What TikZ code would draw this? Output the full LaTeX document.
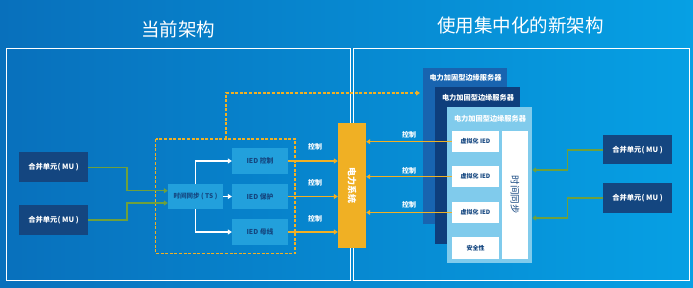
\documentclass[tikz,border=0pt]{standalone}
\usepackage{fontspec}
\setmainfont{Noto Sans CJK SC}
\usetikzlibrary{arrows.meta,positioning}
\definecolor{bgL}{RGB}{8,112,188}
\definecolor{bgR}{RGB}{6,160,228}
\definecolor{navy}{RGB}{20,70,128}
\definecolor{iedfill}{RGB}{34,160,220}
\definecolor{orng}{RGB}{240,176,36}
\definecolor{grn}{RGB}{110,160,60}
\definecolor{srvA}{RGB}{24,100,176}
\definecolor{srvB}{RGB}{14,62,124}
\definecolor{srvC}{RGB}{128,203,236}
\begin{document}
\begin{tikzpicture}[x=1pt,y=-1pt,
  box/.style={draw=none,inner sep=0pt,align=center},
  mubox/.style={box,fill=navy,text=white,font=\bfseries\fontsize{7.3}{8}\selectfont,minimum width=69pt,minimum height=30pt},
  iedbox/.style={box,fill=iedfill,text=navy,font=\bfseries\fontsize{6.8}{8}\selectfont,minimum width=56pt,minimum height=25.5pt},
  wbox/.style={box,fill=white,text=navy,font=\bfseries\fontsize{6}{7}\selectfont,minimum width=47pt,minimum height=21.5pt},
  srv/.style={box,minimum width=85pt,minimum height=156pt},
  srvlab/.style={text=white,font=\bfseries\fontsize{7.2}{8}\selectfont,inner sep=0pt},
  ctl/.style={text=white,font=\bfseries\fontsize{7}{8}\selectfont,inner sep=0pt},
  garr/.style={draw=grn,line width=1.5pt,-{Triangle[width=5pt,length=4pt]}},
  oarr/.style={draw=orng,line width=1.3pt,-{Triangle[width=5pt,length=4pt]}},
  warr/.style={draw=white,line width=1.4pt,-{Triangle[width=5pt,length=4pt]}},
  panel/.style={draw=white,line width=1pt},
  title/.style={text=white,font=\fontsize{18.5}{20}\selectfont,inner sep=0pt}
]
\useasboundingbox (0,0) rectangle (693,288);
\shade[left color=bgL,right color=bgR] (0,0) rectangle (693,288);

% titles
\node[title] (t1) at (178,29) {当前架构};
\node[title] (t2) at (520.5,25) {使用集中化的新架构};

% panels
\draw[panel] (6.5,49) rectangle (350,280.5);
\draw[panel] (353,49) rectangle (689,280.5);

% left side
\node[mubox] (mu1) at (53.5,167.5) {合并单元( MU )};
\node[mubox] (mu2) at (53.5,220) {合并单元( MU )};
\node[iedbox,minimum width=55pt,font=\bfseries\fontsize{6.5}{8}\selectfont] (ts) at (195.5,196.5) {时间同步 ( TS )};
\node[iedbox] (i1) at (260,161) {IED 控制};
\node[iedbox] (i2) at (260,196.5) {IED 保护};
\node[iedbox] (i3) at (260,232) {IED 母线};
\coordinate (db1) at (155.7,139);
\coordinate (db2) at (295,253.7);
\draw[orng,line width=1.4pt,dash pattern=on 3pt off 1.6pt] (db1) rectangle (db2);

% power system
\node[box,fill=orng,minimum width=28pt,minimum height=125pt] (ps) at (352,185.2) {};
\node[text=white,font=\bfseries\fontsize{9}{10}\selectfont,rotate=-90,inner sep=0pt] (pst) at (ps.center) {电力系统};

% servers
\node[srv,fill=srvA,minimum width=84pt] (s1) at (465,146) {};
\node[srv,fill=srvB,minimum height=157pt] (s2) at (477.5,165.5) {};
\node[srv,fill=srvC] (s3) at (489.5,184.7) {};
\node[srvlab] (s1l) at (465.5,78) {电力加固型边缘服务器};
\node[srvlab] (s2l) at (478,97.7) {电力加固型边缘服务器};
\node[srvlab] (s3l) at (490,119) {电力加固型边缘服务器};
\node[wbox] (v1) at (475.5,141.7) {虚拟化 IED};
\node[wbox] (v2) at (475.5,176.7) {虚拟化 IED};
\node[wbox] (v3) at (475.5,212.5) {虚拟化 IED};
\node[wbox] (sec) at (475.5,248) {安全性};
\node[box,fill=white,minimum width=25.4pt,minimum height=127.7pt] (tsync) at (515,194.8) {};
\node[text=navy,font=\fontsize{9.5}{10}\selectfont,rotate=-90,inner sep=0pt] (tsynct) at (tsync.center) {时间同步};

\node[mubox,minimum height=29pt] (mr1) at (637.5,149.7) {合并单元( MU )};
\node[mubox] (mr2) at (637.5,197.8) {合并单元( MU )};

% connectors left
\draw[garr] (mu1.east) -- (127,167.5) -- (127,190.7) -- (ts.west |- 0,190.7);
\draw[garr] (mu2.east) -- (127,220) -- (127,203) -- (ts.west |- 0,203);
\draw[warr] (ts.north) |- (i1.west);
\draw[warr] (ts.east) -- (i2.west);
\draw[warr] (ts.south) |- (i3.west);
\draw[oarr] (i1.east) -- (i1.east -| ps.west);
\draw[oarr] (i2.east) -- (i2.east -| ps.west);
\draw[oarr] (i3.east) -- (i3.east -| ps.west);
\node[ctl] (c1) at (315,147) {控制};
\node[ctl] (c2) at (315,183) {控制};
\node[ctl] (c3) at (315,219) {控制};

% dashed link
\coordinate (dtop) at (226,139);
\coordinate (dend) at (420,93);
\draw[orng,line width=1.4pt,dash pattern=on 3pt off 1.6pt,-{Triangle[width=5pt,length=4pt]}] (dtop) -- (226,93) -- (dend);

% right connectors
\draw[oarr] (v1.west) -- (v1.west -| ps.east);
\draw[oarr] (v2.west) -- (v2.west -| ps.east);
\draw[oarr] (v3.west) -- (v3.west -| ps.east);
\node[ctl] (c4) at (409,135) {控制};
\node[ctl] (c5) at (409,171) {控制};
\node[ctl] (c6) at (409,205) {控制};

\draw[garr] (mr1.west |- 0,150) -- (567.3,150) -- (567.3,170) -- (s3.east |- 0,170);
\draw[garr] (mr2.west |- 0,198) -- (567.3,198) -- (567.3,218) -- (s3.east |- 0,218);
\end{tikzpicture}
\end{document}
